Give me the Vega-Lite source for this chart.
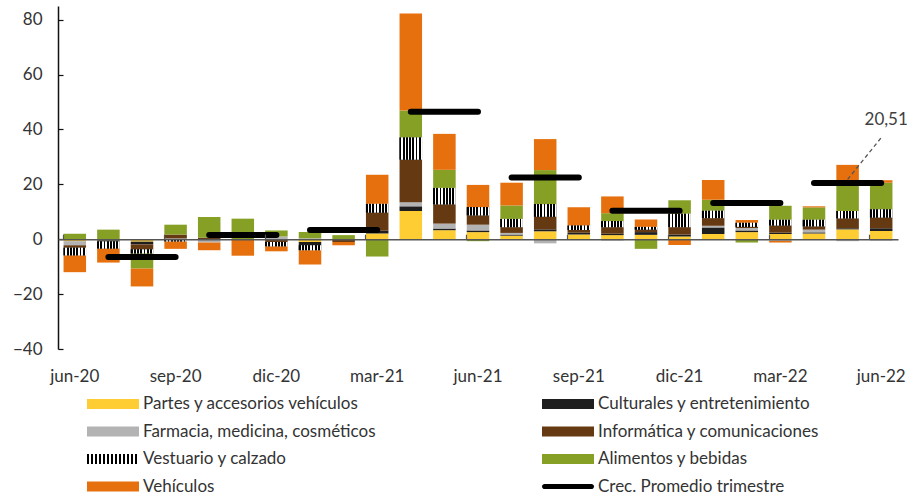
{
  "$schema": "https://vega.github.io/schema/vega-lite/v6.json",
  "width": 840,
  "height": 343,
  "autosize": {"type": "none"},
  "padding": {"left": 58, "top": 6, "right": 11, "bottom": 145},
  "config": {"font": "Lato", "view": {"stroke": null}},
  "datasets": {
    "bars": [
      {"m":"jun-20","c":"Partes y accesorios vehículos","v":-0.7},
      {"m":"jun-20","c":"Farmacia, medicina, cosméticos","v":-1.5},
      {"m":"jun-20","c":"Informática y comunicaciones","v":-0.9},
      {"m":"jun-20","c":"Vestuario y calzado","v":-2.8},
      {"m":"jun-20","c":"Alimentos y bebidas","v":2.0},
      {"m":"jun-20","c":"Vehículos","v":-6.1},
      {"m":"jul-20","c":"Partes y accesorios vehículos","v":-0.4},
      {"m":"jul-20","c":"Culturales y entretenimiento","v":-0.4},
      {"m":"jul-20","c":"Vestuario y calzado","v":-2.6},
      {"m":"jul-20","c":"Alimentos y bebidas","v":3.5},
      {"m":"jul-20","c":"Vehículos","v":-5.1},
      {"m":"ago-20","c":"Partes y accesorios vehículos","v":-0.9},
      {"m":"ago-20","c":"Culturales y entretenimiento","v":-1.0},
      {"m":"ago-20","c":"Informática y comunicaciones","v":-1.8},
      {"m":"ago-20","c":"Vestuario y calzado","v":-1.5},
      {"m":"ago-20","c":"Alimentos y bebidas","v":-5.5},
      {"m":"ago-20","c":"Vehículos","v":-6.5},
      {"m":"sep-20","c":"Farmacia, medicina, cosméticos","v":0.3},
      {"m":"sep-20","c":"Informática y comunicaciones","v":1.4},
      {"m":"sep-20","c":"Vestuario y calzado","v":-0.8},
      {"m":"sep-20","c":"Alimentos y bebidas","v":3.6},
      {"m":"sep-20","c":"Vehículos","v":-2.7},
      {"m":"oct-20","c":"Farmacia, medicina, cosméticos","v":-1.2},
      {"m":"oct-20","c":"Informática y comunicaciones","v":0.6},
      {"m":"oct-20","c":"Alimentos y bebidas","v":7.5},
      {"m":"oct-20","c":"Vehículos","v":-2.8},
      {"m":"nov-20","c":"Alimentos y bebidas","v":7.5},
      {"m":"nov-20","c":"Vehículos","v":-6.0},
      {"m":"dic-20","c":"Farmacia, medicina, cosméticos","v":1.0},
      {"m":"dic-20","c":"Informática y comunicaciones","v":-1.0},
      {"m":"dic-20","c":"Vestuario y calzado","v":-1.6},
      {"m":"dic-20","c":"Alimentos y bebidas","v":2.2},
      {"m":"dic-20","c":"Vehículos","v":-1.8},
      {"m":"ene-21","c":"Partes y accesorios vehículos","v":-1.0},
      {"m":"ene-21","c":"Culturales y entretenimiento","v":-1.2},
      {"m":"ene-21","c":"Farmacia, medicina, cosméticos","v":0.4},
      {"m":"ene-21","c":"Vestuario y calzado","v":-1.8},
      {"m":"ene-21","c":"Alimentos y bebidas","v":2.2},
      {"m":"ene-21","c":"Vehículos","v":-5.2},
      {"m":"feb-21","c":"Informática y comunicaciones","v":-1.0},
      {"m":"feb-21","c":"Alimentos y bebidas","v":1.5},
      {"m":"feb-21","c":"Vehículos","v":-1.2},
      {"m":"mar-21","c":"Partes y accesorios vehículos","v":2.1},
      {"m":"mar-21","c":"Culturales y entretenimiento","v":1.0},
      {"m":"mar-21","c":"Informática y comunicaciones","v":6.6},
      {"m":"mar-21","c":"Vestuario y calzado","v":3.2},
      {"m":"mar-21","c":"Alimentos y bebidas","v":-6.3},
      {"m":"mar-21","c":"Vehículos","v":10.6},
      {"m":"abr-21","c":"Partes y accesorios vehículos","v":10.3},
      {"m":"abr-21","c":"Culturales y entretenimiento","v":1.7},
      {"m":"abr-21","c":"Farmacia, medicina, cosméticos","v":1.5},
      {"m":"abr-21","c":"Informática y comunicaciones","v":15.5},
      {"m":"abr-21","c":"Vestuario y calzado","v":8.1},
      {"m":"abr-21","c":"Alimentos y bebidas","v":9.8},
      {"m":"abr-21","c":"Vehículos","v":35.4},
      {"m":"may-21","c":"Partes y accesorios vehículos","v":3.3},
      {"m":"may-21","c":"Culturales y entretenimiento","v":0.6},
      {"m":"may-21","c":"Farmacia, medicina, cosméticos","v":1.8},
      {"m":"may-21","c":"Informática y comunicaciones","v":7.0},
      {"m":"may-21","c":"Vestuario y calzado","v":6.0},
      {"m":"may-21","c":"Alimentos y bebidas","v":6.6},
      {"m":"may-21","c":"Vehículos","v":13.1},
      {"m":"jun-21","c":"Partes y accesorios vehículos","v":2.6},
      {"m":"jun-21","c":"Culturales y entretenimiento","v":0.6},
      {"m":"jun-21","c":"Farmacia, medicina, cosméticos","v":2.1},
      {"m":"jun-21","c":"Informática y comunicaciones","v":3.4},
      {"m":"jun-21","c":"Vestuario y calzado","v":3.0},
      {"m":"jun-21","c":"Alimentos y bebidas","v":-0.7},
      {"m":"jun-21","c":"Vehículos","v":8.1},
      {"m":"jul-21","c":"Partes y accesorios vehículos","v":1.3},
      {"m":"jul-21","c":"Culturales y entretenimiento","v":0.4},
      {"m":"jul-21","c":"Farmacia, medicina, cosméticos","v":0.6},
      {"m":"jul-21","c":"Informática y comunicaciones","v":2.1},
      {"m":"jul-21","c":"Vestuario y calzado","v":3.0},
      {"m":"jul-21","c":"Alimentos y bebidas","v":4.9},
      {"m":"jul-21","c":"Vehículos","v":8.3},
      {"m":"ago-21","c":"Partes y accesorios vehículos","v":2.9},
      {"m":"ago-21","c":"Culturales y entretenimiento","v":0.7},
      {"m":"ago-21","c":"Farmacia, medicina, cosméticos","v":-1.5},
      {"m":"ago-21","c":"Informática y comunicaciones","v":4.6},
      {"m":"ago-21","c":"Vestuario y calzado","v":4.6},
      {"m":"ago-21","c":"Alimentos y bebidas","v":12.4},
      {"m":"ago-21","c":"Vehículos","v":11.3},
      {"m":"sep-21","c":"Partes y accesorios vehículos","v":1.7},
      {"m":"sep-21","c":"Culturales y entretenimiento","v":0.7},
      {"m":"sep-21","c":"Informática y comunicaciones","v":1.0},
      {"m":"sep-21","c":"Vestuario y calzado","v":1.6},
      {"m":"sep-21","c":"Vehículos","v":6.7},
      {"m":"oct-21","c":"Partes y accesorios vehículos","v":1.5},
      {"m":"oct-21","c":"Culturales y entretenimiento","v":0.5},
      {"m":"oct-21","c":"Farmacia, medicina, cosméticos","v":-0.5},
      {"m":"oct-21","c":"Informática y comunicaciones","v":2.4},
      {"m":"oct-21","c":"Vestuario y calzado","v":2.2},
      {"m":"oct-21","c":"Alimentos y bebidas","v":2.9},
      {"m":"oct-21","c":"Vehículos","v":6.1},
      {"m":"nov-21","c":"Partes y accesorios vehículos","v":1.6},
      {"m":"nov-21","c":"Culturales y entretenimiento","v":1.0},
      {"m":"nov-21","c":"Informática y comunicaciones","v":0.9},
      {"m":"nov-21","c":"Vestuario y calzado","v":1.0},
      {"m":"nov-21","c":"Alimentos y bebidas","v":-3.5},
      {"m":"nov-21","c":"Vehículos","v":2.7},
      {"m":"dic-21","c":"Partes y accesorios vehículos","v":1.0},
      {"m":"dic-21","c":"Culturales y entretenimiento","v":0.7},
      {"m":"dic-21","c":"Informática y comunicaciones","v":2.7},
      {"m":"dic-21","c":"Vestuario y calzado","v":4.9},
      {"m":"dic-21","c":"Alimentos y bebidas","v":4.9},
      {"m":"dic-21","c":"Vehículos","v":-2.1},
      {"m":"ene-22","c":"Partes y accesorios vehículos","v":1.9},
      {"m":"ene-22","c":"Culturales y entretenimiento","v":2.4},
      {"m":"ene-22","c":"Farmacia, medicina, cosméticos","v":0.6},
      {"m":"ene-22","c":"Informática y comunicaciones","v":2.8},
      {"m":"ene-22","c":"Vestuario y calzado","v":2.7},
      {"m":"ene-22","c":"Alimentos y bebidas","v":4.0},
      {"m":"ene-22","c":"Vehículos","v":7.2},
      {"m":"feb-22","c":"Partes y accesorios vehículos","v":2.6},
      {"m":"feb-22","c":"Culturales y entretenimiento","v":0.6},
      {"m":"feb-22","c":"Farmacia, medicina, cosméticos","v":0.9},
      {"m":"feb-22","c":"Informática y comunicaciones","v":0.4},
      {"m":"feb-22","c":"Vestuario y calzado","v":1.5},
      {"m":"feb-22","c":"Alimentos y bebidas","v":-1.2},
      {"m":"feb-22","c":"Vehículos","v":1.0},
      {"m":"mar-22","c":"Partes y accesorios vehículos","v":1.9},
      {"m":"mar-22","c":"Culturales y entretenimiento","v":0.5},
      {"m":"mar-22","c":"Farmacia, medicina, cosméticos","v":-0.6},
      {"m":"mar-22","c":"Informática y comunicaciones","v":2.6},
      {"m":"mar-22","c":"Vestuario y calzado","v":2.1},
      {"m":"mar-22","c":"Alimentos y bebidas","v":5.1},
      {"m":"mar-22","c":"Vehículos","v":-0.6},
      {"m":"abr-22","c":"Partes y accesorios vehículos","v":2.1},
      {"m":"abr-22","c":"Culturales y entretenimiento","v":0.4},
      {"m":"abr-22","c":"Farmacia, medicina, cosméticos","v":1.0},
      {"m":"abr-22","c":"Informática y comunicaciones","v":1.2},
      {"m":"abr-22","c":"Vestuario y calzado","v":2.4},
      {"m":"abr-22","c":"Alimentos y bebidas","v":4.5},
      {"m":"abr-22","c":"Vehículos","v":0.4},
      {"m":"may-22","c":"Partes y accesorios vehículos","v":3.6},
      {"m":"may-22","c":"Culturales y entretenimiento","v":0.4},
      {"m":"may-22","c":"Farmacia, medicina, cosméticos","v":-0.7},
      {"m":"may-22","c":"Informática y comunicaciones","v":3.6},
      {"m":"may-22","c":"Vestuario y calzado","v":2.7},
      {"m":"may-22","c":"Alimentos y bebidas","v":9.1},
      {"m":"may-22","c":"Vehículos","v":7.7},
      {"m":"jun-22","c":"Partes y accesorios vehículos","v":3.0},
      {"m":"jun-22","c":"Culturales y entretenimiento","v":1.0},
      {"m":"jun-22","c":"Farmacia, medicina, cosméticos","v":-0.5},
      {"m":"jun-22","c":"Informática y comunicaciones","v":3.9},
      {"m":"jun-22","c":"Vestuario y calzado","v":3.0},
      {"m":"jun-22","c":"Alimentos y bebidas","v":9.7},
      {"m":"jun-22","c":"Vehículos","v":0.9}
    ],
    "avg": [
      {"m":"jul-20","q":"T3-20","v":-6.5},{"m":"ago-20","q":"T3-20","v":-6.5},{"m":"sep-20","q":"T3-20","v":-6.5},
      {"m":"oct-20","q":"T4-20","v":1.5},{"m":"nov-20","q":"T4-20","v":1.5},{"m":"dic-20","q":"T4-20","v":1.5},
      {"m":"ene-21","q":"T1-21","v":3.4},{"m":"feb-21","q":"T1-21","v":3.4},{"m":"mar-21","q":"T1-21","v":3.4},
      {"m":"abr-21","q":"T2-21","v":46.5},{"m":"may-21","q":"T2-21","v":46.5},{"m":"jun-21","q":"T2-21","v":46.5},
      {"m":"jul-21","q":"T3-21","v":22.5},{"m":"ago-21","q":"T3-21","v":22.5},{"m":"sep-21","q":"T3-21","v":22.5},
      {"m":"oct-21","q":"T4-21","v":10.4},{"m":"nov-21","q":"T4-21","v":10.4},{"m":"dic-21","q":"T4-21","v":10.4},
      {"m":"ene-22","q":"T1-22","v":13.2},{"m":"feb-22","q":"T1-22","v":13.2},{"m":"mar-22","q":"T1-22","v":13.2},
      {"m":"abr-22","q":"T2-22","v":20.51},{"m":"may-22","q":"T2-22","v":20.51},{"m":"jun-22","q":"T2-22","v":20.51}
    ]
  },
  "layer": [
    {
      "data": {"name": "bars"},
      "transform": [
        {"calculate": "indexof(['Partes y accesorios vehículos','Culturales y entretenimiento','Farmacia, medicina, cosméticos','Informática y comunicaciones','Vestuario y calzado','Alimentos y bebidas','Vehículos'], datum.c)", "as": "o"},
        {"stack": "v", "groupby": ["m"], "sort": [{"field": "o", "order": "ascending"}], "offset": "zero", "as": ["v0", "v1"]}
      ],
      "mark": {"type": "bar"},
      "encoding": {
        "x": {
          "field": "m", "type": "nominal", "sort": null,
          "scale": {
            "domain": ["jun-20","jul-20","ago-20","sep-20","oct-20","nov-20","dic-20","ene-21","feb-21","mar-21","abr-21","may-21","jun-21","jul-21","ago-21","sep-21","oct-21","nov-21","dic-21","ene-22","feb-22","mar-22","abr-22","may-22","jun-22"],
            "paddingInner": 0.33, "paddingOuter": 0.165
          },
          "axis": {
            "title": null,
            "orient": "bottom",
            "offset": -109.8,
            "zindex": 1,
            "values": ["jun-20","sep-20","dic-20","mar-21","jun-21","sep-21","dic-21","mar-22","jun-22"],
            "bandPosition": 0,
            "labelAngle": 0,
            "labelFontSize": 17,
            "labelColor": "#333333",
            "labelPadding": 134,
            "labelAlign": "center",
            "encode": {"labels": {"update": {"dx": {"value": 16.8}}}},
            "domainColor": "#555555",
            "domainWidth": 1.5,
            "ticks": true,
            "tickSize": -5,
            "tickColor": "#555555",
            "tickWidth": 1.2,
            "grid": false
          }
        },
        "y": {
          "field": "v0", "type": "quantitative",
          "scale": {"domain": [-40, 85], "nice": false},
          "axis": {
            "title": null,
            "values": [-40, -20, 0, 20, 40, 60, 80],
            "grid": false,
            "domainColor": "#111111",
            "domainWidth": 1.5,
            "tickColor": "#111111",
            "tickSize": -5,
            "tickWidth": 1.2,
            "labelFontSize": 17,
            "labelColor": "#333333",
            "labelPadding": 21
          }
        },
        "y2": {"field": "v1"},
        "color": {
          "field": "c", "type": "nominal",
          "scale": {
            "domain": ["Partes y accesorios vehículos","Culturales y entretenimiento","Farmacia, medicina, cosméticos","Informática y comunicaciones","Vestuario y calzado","Alimentos y bebidas","Vehículos","Crec. Promedio trimestre"],
            "range": ["#FECC33","#1E1E1E","#B3B3B3","#653A12","#000000","#86A026","#E5700D","#000000"]
          },
          "legend": {
            "title": null,
            "orient": "none",
            "direction": "horizontal",
            "legendX": 29,
            "legendY": 385,
            "columns": 2,
            "columnPadding": 166,
            "rowPadding": 6.5,
            "symbolType": "M-1,-0.38H3V0.38H-1Z",
            "symbolSize": 676,
            "symbolStrokeWidth": 0,
            "labelFontSize": 17,
            "labelColor": "#333333",
            "labelOffset": 30,
            "labelLimit": 400,
            "encode": {
              "symbols": {
                "update": {
                  "shape": [
                    {"test": "datum.value === 'Crec. Promedio trimestre'", "value": "M-0.8,-0.2H2.8A0.2,0.2 0 0 1 2.8,0.2H-0.8A0.2,0.2 0 0 1 -0.8,-0.2Z"},
                    {"test": "datum.value === 'Vestuario y calzado'", "value": "M-1,-0.38h0.1538v0.76h-0.1538ZM-0.6923,-0.38h0.1538v0.76h-0.1538ZM-0.3846,-0.38h0.1538v0.76h-0.1538ZM-0.0769,-0.38h0.1538v0.76h-0.1538ZM0.2308,-0.38h0.1538v0.76h-0.1538ZM0.5385,-0.38h0.1538v0.76h-0.1538ZM0.8462,-0.38h0.1538v0.76h-0.1538ZM1.1538,-0.38h0.1538v0.76h-0.1538ZM1.4615,-0.38h0.1538v0.76h-0.1538ZM1.7692,-0.38h0.1538v0.76h-0.1538ZM2.0769,-0.38h0.1538v0.76h-0.1538ZM2.3846,-0.38h0.1538v0.76h-0.1538ZM2.6923,-0.38h0.1538v0.76h-0.1538Z"},
                    {"value": "M-1,-0.38H3V0.38H-1Z"}
                  ]
                }
              }
            }
          }
        }
      }
    },
    {
      "data": {"name": "bars"},
      "transform": [
        {"calculate": "indexof(['Partes y accesorios vehículos','Culturales y entretenimiento','Farmacia, medicina, cosméticos','Informática y comunicaciones','Vestuario y calzado','Alimentos y bebidas','Vehículos'], datum.c)", "as": "o"},
        {"stack": "v", "groupby": ["m"], "sort": [{"field": "o", "order": "ascending"}], "offset": "zero", "as": ["v0", "v1"]},
        {"filter": "datum.c === 'Vestuario y calzado'"}
      ],
      "mark": {
        "type": "bar",
        "fill": {"gradient": "linear", "x1": 0, "y1": 0, "x2": 1, "y2": 0, "stops": [
          {"offset": 0, "color": "#000000"},{"offset": 0.0786, "color": "#000000"},{"offset": 0.0786, "color": "#ffffff"},{"offset": 0.1429, "color": "#ffffff"},
          {"offset": 0.1429, "color": "#000000"},{"offset": 0.2214, "color": "#000000"},{"offset": 0.2214, "color": "#ffffff"},{"offset": 0.2857, "color": "#ffffff"},
          {"offset": 0.2857, "color": "#000000"},{"offset": 0.3643, "color": "#000000"},{"offset": 0.3643, "color": "#ffffff"},{"offset": 0.4286, "color": "#ffffff"},
          {"offset": 0.4286, "color": "#000000"},{"offset": 0.5071, "color": "#000000"},{"offset": 0.5071, "color": "#ffffff"},{"offset": 0.5714, "color": "#ffffff"},
          {"offset": 0.5714, "color": "#000000"},{"offset": 0.65, "color": "#000000"},{"offset": 0.65, "color": "#ffffff"},{"offset": 0.7143, "color": "#ffffff"},
          {"offset": 0.7143, "color": "#000000"},{"offset": 0.7929, "color": "#000000"},{"offset": 0.7929, "color": "#ffffff"},{"offset": 0.8571, "color": "#ffffff"},
          {"offset": 0.8571, "color": "#000000"},{"offset": 0.9357, "color": "#000000"},{"offset": 0.9357, "color": "#ffffff"},{"offset": 1, "color": "#ffffff"}
        ]}
      },
      "encoding": {
        "x": {"field": "m", "type": "nominal", "sort": null},
        "y": {"field": "v0", "type": "quantitative"},
        "y2": {"field": "v1"}
      }
    },
    {
      "data": {"name": "avg"},
      "mark": {"type": "line", "color": "#000000", "strokeWidth": 6, "strokeCap": "round"},
      "encoding": {
        "x": {"field": "m", "type": "nominal", "sort": null},
        "y": {"field": "v", "type": "quantitative"},
        "detail": {"field": "q"}
      }
    },
    {
      "data": {"values": [{}]},
      "mark": {"type": "rule", "strokeDash": [4, 3], "color": "#555555", "strokeWidth": 1.3},
      "encoding": {
        "x": {"datum": "may-22"},
        "x2": {"datum": "jun-22"},
        "y": {"datum": 21.8},
        "y2": {"datum": 37}
      }
    },
    {
      "data": {"values": [{}]},
      "mark": {"type": "text", "fontSize": 17, "color": "#404040", "align": "center", "baseline": "middle", "dx": 5},
      "encoding": {
        "x": {"datum": "jun-22"},
        "y": {"datum": 43.5},
        "text": {"value": "20,51"}
      }
    }
  ]
}
